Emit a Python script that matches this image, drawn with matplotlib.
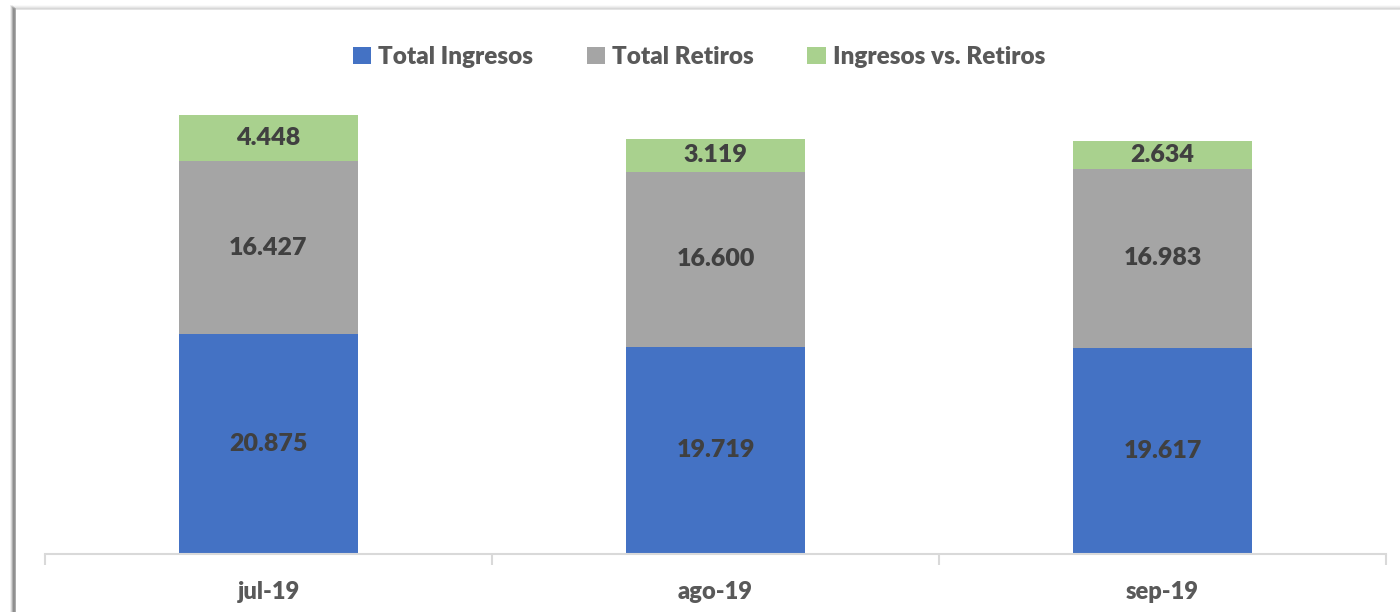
import numpy as np
import matplotlib.pyplot as plt
from matplotlib.lines import Line2D
from matplotlib.patches import Patch

meses = ['jul-19', 'ago-19', 'sep-19']
ingresos = [20.875, 19.719, 19.617]
retiros = [16.427, 16.600, 16.983]
diferencia = [4.448, 3.119, 2.634]

series = ['Total Ingresos', 'Total Retiros', 'Ingresos vs. Retiros']
colores = ['#4472C4', '#A5A5A5', '#A9D18E']

plt.rcParams['font.family'] = ['Lato', 'DejaVu Sans']
W, H = 1400, 612
fig = plt.figure(figsize=(W / 100, H / 100), dpi=100)

# shadowed frame of the original chart box
for i, a in enumerate([0.7, 0.45, 0.25, 0.12]):
    fig.add_artist(Line2D([(14 - i) / W, (14 - i) / W], [0, 1 - (9 - i) / H],
                          color='#7a7a7a', alpha=a, lw=2))
    fig.add_artist(Line2D([(14 - i) / W, 1], [1 - (9 - i) / H, 1 - (9 - i) / H],
                          color='#b0b0b0', alpha=a * 0.6, lw=1.2))

ax = fig.add_axes([45 / W, 1 - 554 / H, (1386 - 45) / W, (554 - 91) / H])
x = np.arange(len(meses))
ancho = 0.4
bottom = np.zeros(len(meses))
for vals, col in zip([ingresos, retiros, diferencia], colores):
    bars = ax.bar(x, vals, ancho, bottom=bottom, color=col, zorder=2)
    for b, v, y0 in zip(bars, vals, bottom):
        ax.text(b.get_x() + b.get_width() / 2, y0 + v / 2,
                f'{v:.3f}', ha='center', va='center',
                fontsize=18, fontweight='heavy', color='#404040')
    bottom += np.array(vals)

ax.set_xlim(-0.5, len(meses) - 0.5)
ax.set_ylim(0, 44)
for s in ['top', 'right', 'left']:
    ax.spines[s].set_visible(False)
ax.spines['bottom'].set_color('#d9d9d9')
ax.spines['bottom'].set_linewidth(1.5)
ax.set_yticks([])
ax.set_xticks(np.arange(-0.5, len(meses)), minor=False)
ax.set_xticklabels([])
ax.tick_params(axis='x', length=8, width=1.5, color='#d9d9d9')
for xi, m in zip(x, meses):
    ax.text(xi, -0.082, m, transform=ax.get_xaxis_transform(), ha='center',
            va='center', fontsize=17, fontweight='heavy', color='#595959')

handles = [Patch(facecolor=c, label=s) for c, s in zip(colores, series)]
fig.legend(handles=handles, loc='center', bbox_to_anchor=(699 / W, 1 - 57 / H),
           ncol=3, frameon=False, handlelength=0.75,
           handleheight=0.75, handletextpad=0.3, columnspacing=2.2,
           prop={'weight': 'heavy', 'size': 17.5})
for t in fig.legends[0].get_texts():
    t.set_color('#595959')

fig.savefig('out.png', dpi=100)
